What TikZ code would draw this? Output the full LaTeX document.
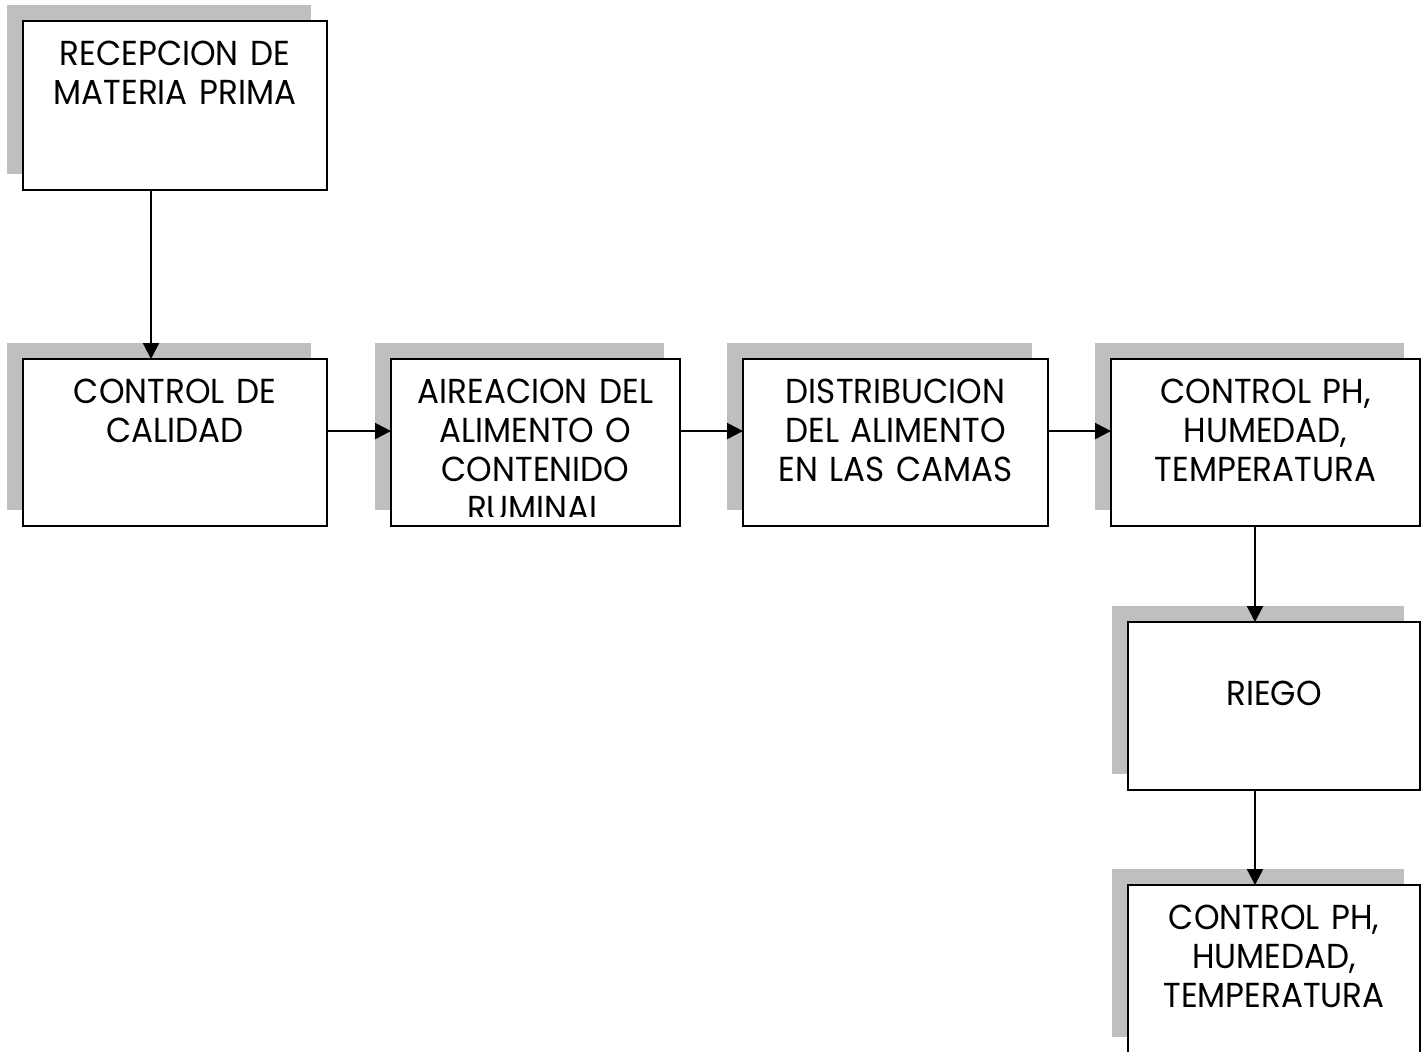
\documentclass[tikz,border=0pt]{standalone}
\usepackage{fontspec}
\newfontfamily\gotica{Poppins}[FakeStretch=0.94]
\usetikzlibrary{positioning,shadows,arrows.meta}

\begin{document}
\begin{tikzpicture}[
	font=\gotica\fontsize{26}{29.25}\selectfont,
	caja/.style={
	draw=black,line width=1.7pt,fill=white,inner sep=0pt,outer sep=0pt,
	drop shadow={shadow xshift=-12pt,shadow yshift=12pt,fill=black!25,opacity=1},
	},
	texto/.style={text width=220pt,align=center,inner sep=0pt,anchor=base},
	linie/.style={
	draw=black,solid,line width=1.7pt,-{Triangle[length=12pt,width=12pt]},
	}
	]

\useasboundingbox (0,0) rectangle (1068pt,-788.25pt);

\node[caja,anchor=north west,minimum width=228pt,minimum height=126.75pt] (recepcion) at (17.25pt,-15.75pt) {};
\node[caja,below=126.75pt of recepcion,minimum width=228pt,minimum height=125.25pt] (calidad) {};
\node[caja,right=48pt of calidad,minimum width=216.75pt,minimum height=125.25pt] (aireacion) {};
\node[caja,right=47.25pt of aireacion,minimum width=228.75pt,minimum height=125.25pt] (distribucion) {};
\node[caja,right=47.25pt of distribucion,minimum width=231.75pt,minimum height=125.25pt] (control) {};
\node[caja,below=72pt of control.south east,anchor=north east,minimum width=219pt,minimum height=126pt] (riego) {};
\node[caja,below=71.25pt of riego,minimum width=219pt,minimum height=126pt] (controlb) {};

\node[below=33pt of recepcion.north,texto] (recepciontxt) {RECEPCION DE\\MATERIA PRIMA};
\node[below=33pt of calidad.north,texto] (calidadtxt) {CONTROL DE\\CALIDAD};
\begin{scope}
\clip (aireacion.north west) rectangle ([yshift=7.5pt]aireacion.south east);
\node[below=33pt of aireacion.north,texto] (aireaciontxt) {AIREACION DEL\\ALIMENTO O\\CONTENIDO\\RUMINAL};
\end{scope}
\node[below=33pt of distribucion.north,texto] (distribuciontxt) {DISTRIBUCION\\DEL ALIMENTO\\EN LAS CAMAS};
\node[below=33pt of control.north,texto] (controltxt) {CONTROL PH,\\HUMEDAD,\\TEMPERATURA};
\node[below=62.25pt of riego.north,texto] (riegotxt) {RIEGO};
\node[below=33pt of controlb.north,texto] (controlbtxt) {CONTROL PH,\\HUMEDAD,\\TEMPERATURA};

\coordinate (eje1) at (113.25pt,0);
\coordinate (eje2) at (941.25pt,0);

\draw[linie] (recepcion.south -| eje1) -- (calidad.north -| eje1);
\draw[linie] ([yshift=8.6pt]calidad.east) -- ([yshift=8.6pt]aireacion.west);
\draw[linie] ([yshift=8.6pt]aireacion.east) -- ([yshift=8.6pt]distribucion.west);
\draw[linie] ([yshift=8.6pt]distribucion.east) -- ([yshift=8.6pt]control.west);
\draw[linie] (control.south -| eje2) -- (riego.north -| eje2);
\draw[linie] (riego.south -| eje2) -- (controlb.north -| eje2);

\end{tikzpicture}
\end{document}
